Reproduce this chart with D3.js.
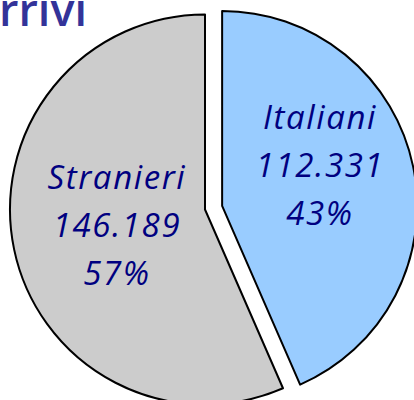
<!DOCTYPE html>
<html><head><meta charset="utf-8">
<script src="https://cdn.jsdelivr.net/npm/d3@7"></script>
<style>html,body{margin:0;padding:0;background:#fff;overflow:hidden}</style>
</head><body>
<script>
const categories = ["Italiani", "Stranieri"];
const values = [112331, 146189];
const colors = ["#99ccff", "#cccccc"];
const title = "Arrivi";

const W = 414, H = 400;
const svg = d3.select("body").append("svg").attr("width", W).attr("height", H);

const cx = 205, cy = 209.5, R = 195, explode = 17.5;
const total = d3.sum(values);
const loc = d3.formatLocale({decimal: ",", thousands: ".", grouping: [3], currency: ["", "€"]});
const fmt = loc.format(",d");

const pie = d3.pie().sort(null).startAngle(0).endAngle(2 * Math.PI);
const arcs = pie(values);
const arc = d3.arc().innerRadius(0).outerRadius(R);

// title (partly cut off at the left and top edges, as in the reference)
svg.append("text").attr("x", 87).attr("y", 26).attr("text-anchor", "end")
  .attr("font-family", "'Open Sans', sans-serif").attr("font-weight", 600)
  .attr("font-size", 45).attr("fill", "#333399").text(title);

const g = svg.append("g").attr("transform", `translate(${cx},${cy})`);
const explodeIdx = 0;
const labelR = [100, 90];
const labelDy = [-20, -2];

arcs.forEach((a, i) => {
  const mid = (a.startAngle + a.endAngle) / 2;
  const off = i === explodeIdx ? explode : 0;
  const ox = Math.sin(mid) * off, oy = -Math.cos(mid) * off;
  const sg = g.append("g").attr("transform", `translate(${ox},${oy})`);
  sg.append("path").attr("d", arc(a)).attr("fill", colors[i])
    .attr("stroke", "#000").attr("stroke-width", 2).attr("stroke-linejoin", "round");
  const lx = Math.sin(mid) * labelR[i], ly = -Math.cos(mid) * labelR[i] + labelDy[i];
  const pct = Math.round(values[i] / total * 100) + "%";
  const lines = [categories[i], fmt(values[i]), pct];
  const t = sg.append("text").attr("text-anchor", "middle")
    .attr("font-family", "'Open Sans', sans-serif").attr("font-style", "italic")
    .attr("font-size", 33).attr("fill", "#000080").attr("letter-spacing", 1.6);
  lines.forEach((s, k) => {
    t.append("tspan").attr("x", lx).attr("y", ly + 11 + (k - 1) * 48).text(s);
  });
});
</script>
</body></html>
